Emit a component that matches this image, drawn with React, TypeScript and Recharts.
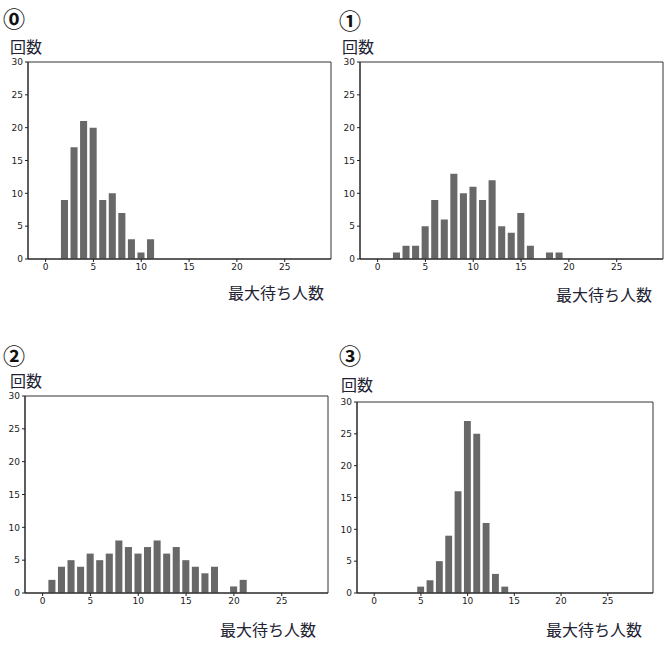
import { BarChart, Bar, XAxis, YAxis, ReferenceArea } from "recharts";

// 最大待ち人数 (x) and 回数 (count) for each of the four runs
const waits0 = [2, 3, 4, 5, 6, 7, 8, 9, 10, 11];
const counts0 = [9, 17, 21, 20, 9, 10, 7, 3, 1, 3];

const waits1 = [2, 3, 4, 5, 6, 7, 8, 9, 10, 11, 12, 13, 14, 15, 16, 18, 19];
const counts1 = [1, 2, 2, 5, 9, 6, 13, 10, 11, 9, 12, 5, 4, 7, 2, 1, 1];

const waits2 = [1, 2, 3, 4, 5, 6, 7, 8, 9, 10, 11, 12, 13, 14, 15, 16, 17, 18, 20, 21];
const counts2 = [2, 4, 5, 4, 6, 5, 6, 8, 7, 6, 7, 8, 6, 7, 5, 4, 3, 4, 1, 2];

const waits3 = [5, 6, 7, 8, 9, 10, 11, 12, 13, 14];
const counts3 = [1, 2, 5, 9, 16, 27, 25, 11, 3, 1];

const panelMarks = ["⓪", "①", "②", "③"];
const xTicks = [0, 5, 10, 15, 20, 25];
const yTicks = [0, 5, 10, 15, 20, 25, 30];

const X_DOMAIN: [number, number] = [-1.84, 29.84];
const Y_DOMAIN: [number, number] = [0, 30];
const JP_FONT = '"Noto Sans CJK JP", sans-serif';

type Box = { x: number; y: number; w: number; h: number };

function Panel({
  waits,
  counts,
  mark,
  plot,
  markPos,
  countPos,
  labelPos,
}: {
  waits: number[];
  counts: number[];
  mark: string;
  plot: Box;
  markPos: [number, number];
  countPos: [number, number];
  labelPos: [number, number];
}) {
  const data = waits.map((w, i) => ({ wait: w, count: counts[i] }));
  const padL = 30;
  const padT = 10;
  const padR = 10;
  const axisH = 20;
  const padB = 10;
  const barSize = (plot.w / (X_DOMAIN[1] - X_DOMAIN[0])) * 0.8 - 0.6;
  const tickStyle = { fill: "#222", fontSize: 9, fontFamily: "DejaVu Sans, sans-serif" };

  return (
    <>
      <div
        style={{
          position: "absolute",
          left: markPos[0],
          top: markPos[1],
          fontSize: 22,
          lineHeight: "22px",
          fontWeight: 700,
          fontFamily: JP_FONT,
          color: "#111",
        }}
      >
        {mark}
      </div>
      <div
        style={{
          position: "absolute",
          left: countPos[0],
          top: countPos[1],
          fontSize: 16,
          lineHeight: "16px",
          fontFamily: JP_FONT,
          color: "#223",
        }}
      >
        回数
      </div>
      <div
        style={{
          position: "absolute",
          left: labelPos[0],
          top: labelPos[1],
          fontSize: 16,
          lineHeight: "16px",
          fontFamily: JP_FONT,
          color: "#223",
          whiteSpace: "nowrap",
        }}
      >
        最大待ち人数
      </div>
      <div style={{ position: "absolute", left: plot.x - padL, top: plot.y - padT }}>
        <BarChart
          width={plot.w + padL + padR}
          height={plot.h + padT + axisH + padB}
          data={data}
          margin={{ top: padT, right: padR, bottom: padB, left: 0 }}
        >
          <XAxis
            dataKey="wait"
            type="number"
            domain={X_DOMAIN}
            ticks={xTicks}
            allowDataOverflow
            height={axisH}
            tickSize={3}
            tick={tickStyle}
            axisLine={{ stroke: "#222" }}
            tickLine={{ stroke: "#222" }}
          />
          <YAxis
            type="number"
            domain={Y_DOMAIN}
            ticks={yTicks}
            width={padL}
            tickSize={3}
            tick={tickStyle}
            axisLine={{ stroke: "#222" }}
            tickLine={{ stroke: "#222" }}
          />
          <ReferenceArea
            x1={X_DOMAIN[0]}
            x2={X_DOMAIN[1]}
            y1={Y_DOMAIN[0]}
            y2={Y_DOMAIN[1]}
            fill="none"
            fillOpacity={0}
            stroke="#333"
            strokeWidth={1}
            ifOverflow="visible"
          />
          <Bar dataKey="count" fill="#686868" barSize={barSize} isAnimationActive={false} />
        </BarChart>
      </div>
    </>
  );
}

export default function App() {
  return (
    <div
      style={{
        position: "absolute",
        left: 0,
        top: 0,
        width: 668,
        height: 649,
        background: "#fff",
        overflow: "hidden",
      }}
    >
      <Panel
        waits={waits0}
        counts={counts0}
        mark={panelMarks[0]}
        plot={{ x: 28, y: 62, w: 303, h: 197 }}
        markPos={[3, 6]}
        countPos={[10, 38]}
        labelPos={[228, 284]}
      />
      <Panel
        waits={waits1}
        counts={counts1}
        mark={panelMarks[1]}
        plot={{ x: 360, y: 62, w: 303, h: 197 }}
        markPos={[339, 8]}
        countPos={[342, 38]}
        labelPos={[556, 286]}
      />
      <Panel
        waits={waits2}
        counts={counts2}
        mark={panelMarks[2]}
        plot={{ x: 25, y: 396, w: 303, h: 197 }}
        markPos={[3, 343]}
        countPos={[10, 372]}
        labelPos={[220, 621]}
      />
      <Panel
        waits={waits3}
        counts={counts3}
        mark={panelMarks[3]}
        plot={{ x: 357, y: 402, w: 296, h: 191 }}
        markPos={[339, 343]}
        countPos={[341, 376]}
        labelPos={[546, 621]}
      />
    </div>
  );
}
